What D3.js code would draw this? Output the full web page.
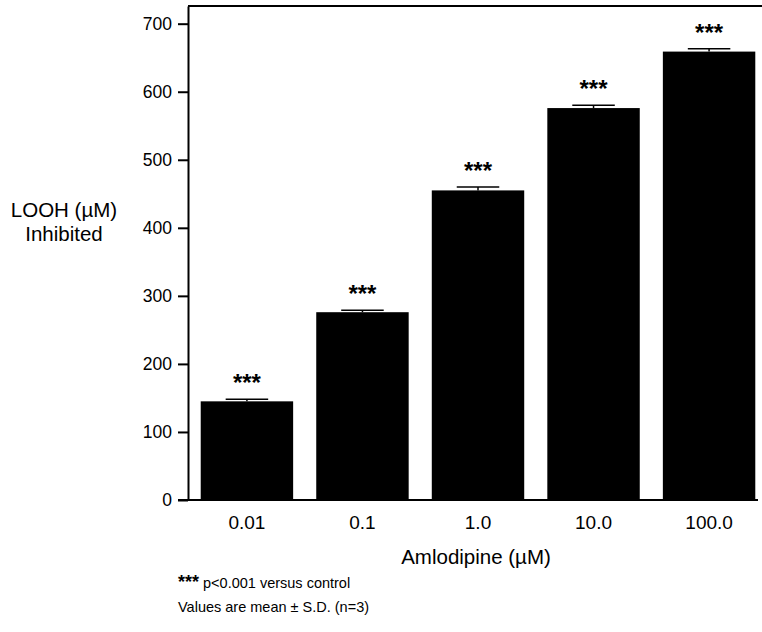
<!DOCTYPE html>
<html>
<head>
<meta charset="utf-8">
<script src="https://d3js.org/d3.v7.min.js"></script>
<style>
  body { margin: 0; background: #fff; }
  svg { display: block; font-family: "Liberation Sans", Arial, Helvetica, sans-serif; }
</style>
</head>
<body>
<div id="chart"></div>
<script>
// Amlodipine concentration vs LOOH inhibited
var doses = ["0.01", "0.1", "1.0", "10.0", "100.0"];
var means = [145, 276, 455, 576, 659];
var sds = [3, 3, 5, 4, 4];
var yTicks = [0, 100, 200, 300, 400, 500, 600, 700];

var width = 762;
var height = 632;
var margin = {top: 6, left: 188, bottom: 132, right: -6};

var svg = d3.select("#chart")
    .append("svg")
    .attr("width", width)
    .attr("height", height);

var x = d3.scaleBand()
    .domain(doses)
    .range([margin.left, width - margin.right])
    .paddingInner(0.2)
    .paddingOuter(0.11);

var y = d3.scaleLinear()
    .domain([0, 726])
    .range([height - margin.bottom, margin.top]);

// bars
svg.selectAll(".bar")
    .data(doses)
    .enter()
    .append("rect")
    .attr("class", "bar")
    .attr("x", function(d) { return x(d); })
    .attr("width", x.bandwidth())
    .attr("y", function(d, i) { return y(means[i]); })
    .attr("height", function(d, i) { return y(0) - y(means[i]); })
    .attr("fill", "#000");

// error bars (upper half only)
var err = svg.selectAll(".err")
    .data(doses)
    .enter()
    .append("g")
    .attr("class", "err")
    .attr("stroke", "#000")
    .attr("stroke-width", 1.5);

err.append("line")
    .attr("x1", function(d) { return x(d) + x.bandwidth() / 2; })
    .attr("x2", function(d) { return x(d) + x.bandwidth() / 2; })
    .attr("y1", function(d, i) { return y(means[i]); })
    .attr("y2", function(d, i) { return y(means[i] + sds[i]); });

err.append("line")
    .attr("x1", function(d) { return x(d) + x.bandwidth() * 0.27; })
    .attr("x2", function(d) { return x(d) + x.bandwidth() * 0.73; })
    .attr("y1", function(d, i) { return y(means[i] + sds[i]); })
    .attr("y2", function(d, i) { return y(means[i] + sds[i]); });

// significance stars
svg.selectAll(".star")
    .data(doses)
    .enter()
    .append("text")
    .attr("class", "star")
    .attr("x", function(d) { return x(d) + x.bandwidth() / 2; })
    .attr("y", function(d, i) { return y(means[i] + sds[i]) - 8; })
    .attr("text-anchor", "middle")
    .attr("font-size", 24)
    .attr("font-weight", "bold")
    .text("***");

// frame: top line
svg.append("line")
    .attr("x1", margin.left)
    .attr("x2", width)
    .attr("y1", y(726))
    .attr("y2", y(726))
    .attr("stroke", "#000")
    .attr("stroke-width", 2);

// y axis
var yAxis = svg.append("g")
    .attr("transform", "translate(" + margin.left + ",0)")
    .call(d3.axisLeft(y).tickValues(yTicks).tickSize(10).tickPadding(6).tickSizeOuter(0));

yAxis.select(".domain").attr("stroke-width", 2);
yAxis.selectAll(".tick line").attr("stroke-width", 2);
yAxis.selectAll(".tick text")
    .attr("font-size", 17.5)
    .attr("font-family", "Liberation Sans, Arial, sans-serif")
    .attr("fill", "#000");

// x axis line (extends past the y axis like the zero tick)
svg.append("line")
    .attr("x1", margin.left - 10)
    .attr("x2", x.range()[1] - 10)
    .attr("y1", y(0))
    .attr("y2", y(0))
    .attr("stroke", "#000")
    .attr("stroke-width", 2);

var xAxis = svg.append("g")
    .attr("transform", "translate(0," + y(0) + ")")
    .call(d3.axisBottom(x).tickSize(0).tickPadding(16));

xAxis.select(".domain").remove();
xAxis.selectAll(".tick text")
    .attr("font-size", 19)
    .attr("font-family", "Liberation Sans, Arial, sans-serif")
    .attr("fill", "#000");

// axis titles
svg.append("text")
    .attr("x", 476)
    .attr("y", 564)
    .attr("text-anchor", "middle")
    .attr("font-size", 20.5)
    .text("Amlodipine (\u00b5M)");

var yTitle = svg.append("text")
    .attr("text-anchor", "middle")
    .attr("font-size", 20.5);

yTitle.append("tspan")
    .attr("x", 64)
    .attr("y", 217)
    .text("LOOH (\u00b5M)");

yTitle.append("tspan")
    .attr("x", 64)
    .attr("y", 241)
    .text("Inhibited");

// footnote
var note = svg.append("text")
    .attr("x", 178)
    .attr("y", 588)
    .attr("font-size", 14.5);

note.append("tspan")
    .attr("font-size", 18)
    .attr("font-weight", "bold")
    .text("***");

note.append("tspan")
    .text(" p<0.001 versus control");

svg.append("text")
    .attr("x", 178)
    .attr("y", 612)
    .attr("font-size", 14.5)
    .text("Values are mean \u00b1 S.D. (n=3)");
</script>
</body>
</html>
